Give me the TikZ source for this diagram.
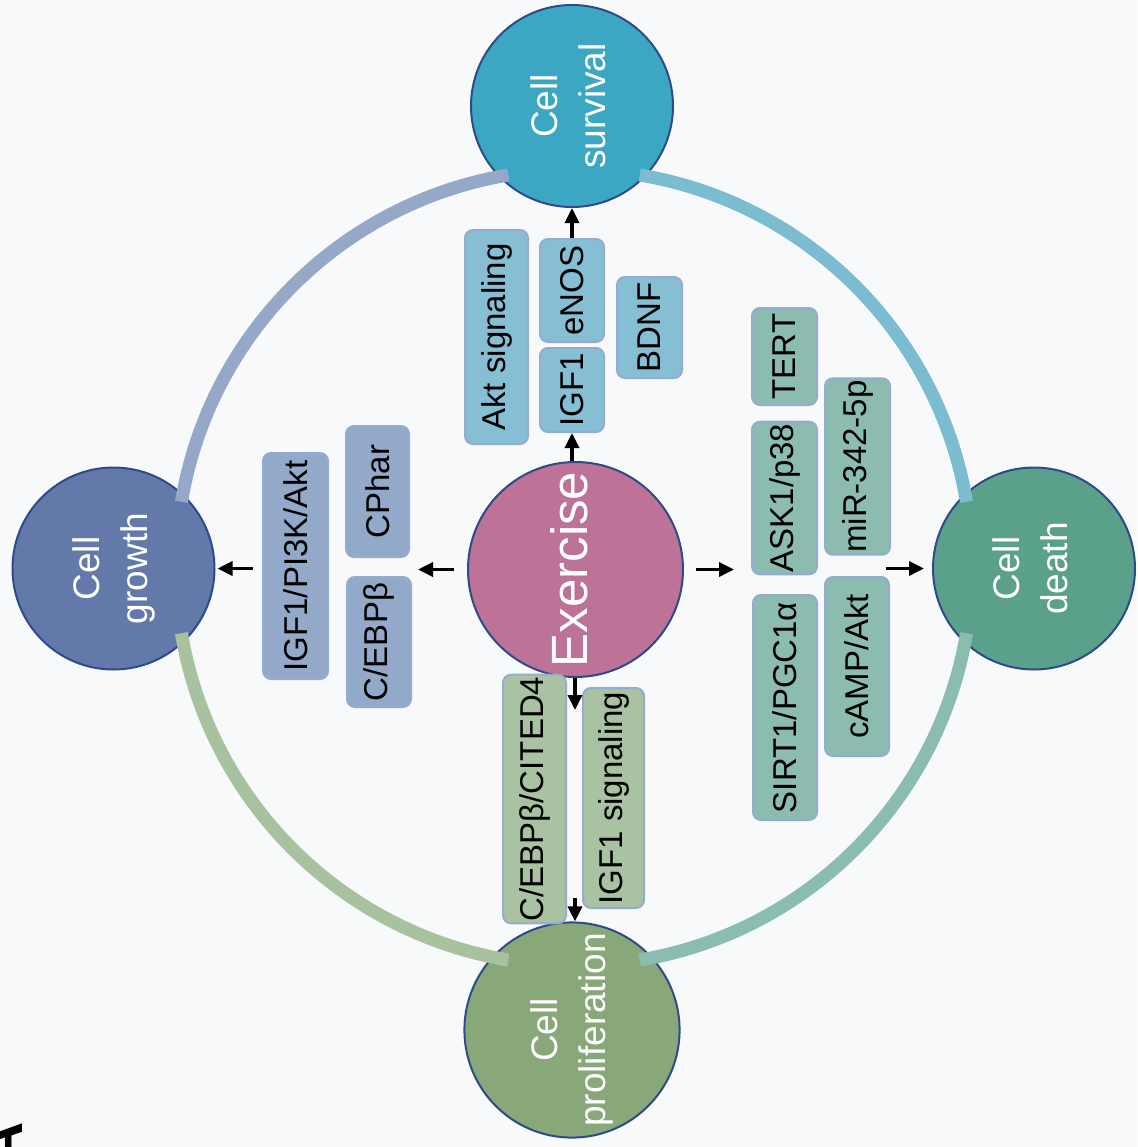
\documentclass[tikz,border=0pt]{standalone}
\usepackage{fontspec}
\setmainfont{Liberation Sans}
\usepackage{graphicx}
\usepackage{tikz}
\usetikzlibrary{arrows.meta}

\definecolor{survc}{HTML}{3BA7C3}
\definecolor{growc}{HTML}{6279A9}
\definecolor{deathc}{HTML}{5BA08B}
\definecolor{prolc}{HTML}{89A87A}
\definecolor{exc}{HTML}{BC7397}
\definecolor{edgec}{HTML}{2D4A8A}
\definecolor{boxedge}{HTML}{95ACD0}
\definecolor{topc}{HTML}{86BFD4}
\definecolor{leftc}{HTML}{93A9C9}
\definecolor{rightc}{HTML}{8CBCAF}
\definecolor{botc}{HTML}{A9C3A2}
\definecolor{ringtl}{HTML}{95A8C8}
\definecolor{ringtr}{HTML}{7BBCD0}
\definecolor{ringbr}{HTML}{8ABCB0}
\definecolor{ringbl}{HTML}{A8C2A0}
\definecolor{bgc}{HTML}{F8F9FA}

\newcommand{\uptext}[1]{\rotatebox{90}{\begin{tabular}{@{}c@{}}#1\end{tabular}}}

\begin{document}
\begin{tikzpicture}[x=0.5pt, y=-0.5pt,
	outcome/.style={shape=circle, draw=edgec, line width=1pt, minimum size=101pt, inner sep=0pt, text=white, font=\fontsize{18.5}{24}\selectfont},
	hub/.style={shape=circle, draw=edgec, line width=1pt, minimum size=107.5pt, inner sep=0pt, text=white, font=\fontsize{25.5}{30}\selectfont},
	factor/.style={draw=boxedge, line width=1pt, rounded corners=4pt, rotate=90, inner xsep=1pt, inner ysep=0pt, font=\fontsize{16.5}{20}\selectfont},
	arr/.style={-{Triangle[length=7.5pt,width=7pt]}, line width=1.7pt},
	ring/.style={line width=6.5pt}]
	\fill[bgc] (0,0) rectangle (1137,1147);
	\useasboundingbox (0,0) rectangle (1137,1147);
	\coordinate (mid) at (574,567.5);

	\node[hub, fill=exc] (ex) at (575.5,569.5) {\uptext{Exercise}};
	\node[outcome, fill=survc] (surv) at (572,106) {\uptext{Cell\\survival}};
	\node[outcome, fill=growc] (grow) at (113.5,568.5) {\uptext{Cell\\growth}};
	\node[outcome, fill=deathc] (death) at (1034,568.5) {\uptext{Cell\\death}};
	\node[outcome, fill=prolc] (prol) at (572,1030) {\uptext{Cell\\proliferation}};

	\draw[ring, ringtl] (mid) ++(189.5:398) arc[start angle=189.5, end angle=260.5, radius=398];
	\draw[ring, ringtr] (mid) ++(279.5:398) arc[start angle=279.5, end angle=350.5, radius=398];
	\draw[ring, ringbr] (mid) ++(9.5:398) arc[start angle=9.5, end angle=80.5, radius=398];
	\draw[ring, ringbl] (mid) ++(99.5:398) arc[start angle=99.5, end angle=170.5, radius=398];

	% survival
	\node[factor, fill=topc, minimum width=107pt, minimum height=31.5pt] (akt) at (496.5,337) {Akt signaling};
	\node[factor, fill=topc, minimum width=51.5pt, minimum height=32pt] (enos) at (572,290.5) {eNOS};
	\node[factor, fill=topc, minimum width=42pt, minimum height=32pt] (igfA) at (572,390) {IGF1};
	\node[factor, fill=topc, minimum width=50.5pt, minimum height=32.5pt] (bdnf) at (649.5,327.5) {BDNF};
	% growth
	\node[factor, fill=leftc, minimum width=113pt, minimum height=32.5pt] (pik) at (295.5,566) {IGF1/PI3K/Akt};
	\node[factor, fill=leftc, minimum width=65.5pt, minimum height=31.5pt] (cphar) at (377.5,491.5) {CPhar};
	\node[factor, fill=leftc, minimum width=65pt, minimum height=32pt] (cebp) at (379,642) {C/EBPβ};
	% death
	\node[factor, fill=rightc, minimum width=48.5pt, minimum height=32.5pt] (tert) at (784.5,356.5) {TERT};
	\node[factor, fill=rightc, minimum width=75pt, minimum height=32.5pt] (ask) at (784.5,498) {ASK1/p38};
	\node[factor, fill=rightc, minimum width=112.5pt, minimum height=32pt] (sirt) at (785,707.5) {SIRT1/PGC1α};
	\node[factor, fill=rightc, minimum width=86.5pt, minimum height=32.5pt] (mir) at (857.5,466.5) {miR-342-5p};
	\node[factor, fill=rightc, minimum width=89.5pt, minimum height=32pt] (camp) at (857,666.5) {cAMP/Akt};
	% proliferation
	\node[factor, fill=botc, minimum width=124pt, minimum height=31.5pt] (cited) at (534.5,799) {C/EBPβ/CITED4};
	\node[factor, fill=botc, minimum width=110pt, minimum height=30.5pt] (igfB) at (613.5,798) {IGF1 signaling};

	\coordinate (split) at (575,710);
	\coordinate (merge) at (575,898);

	\draw[arr] (igfA.west |- ex.north) -- (igfA.west);
	\draw[arr] (enos.east) -- (enos.east |- surv.south);
	\draw[arr, shorten <=6.5pt, shorten >=4pt] (ex.west) -- (cphar.south |- ex.west);
	\draw[arr, shorten <=4.5pt, shorten >=1pt] (pik.north |- grow.east) -- (grow.east);
	\draw[arr, shorten <=6pt, shorten >=8.5pt] (ex.east) -- (ask.north |- ex.east);
	\draw[arr, shorten <=-2.5pt, shorten >=4pt] (mir.south |- death.west) -- (death.west);
	\draw[arr] (split |- ex.south) -- (split);
	\draw[arr] (merge) -- (merge |- prol.north);

	\node[rotate=90, anchor=base east, inner sep=0pt, font=\fontsize{30}{36}\selectfont\bfseries] (panel) at (23,1122) {A};
\end{tikzpicture}
\end{document}
